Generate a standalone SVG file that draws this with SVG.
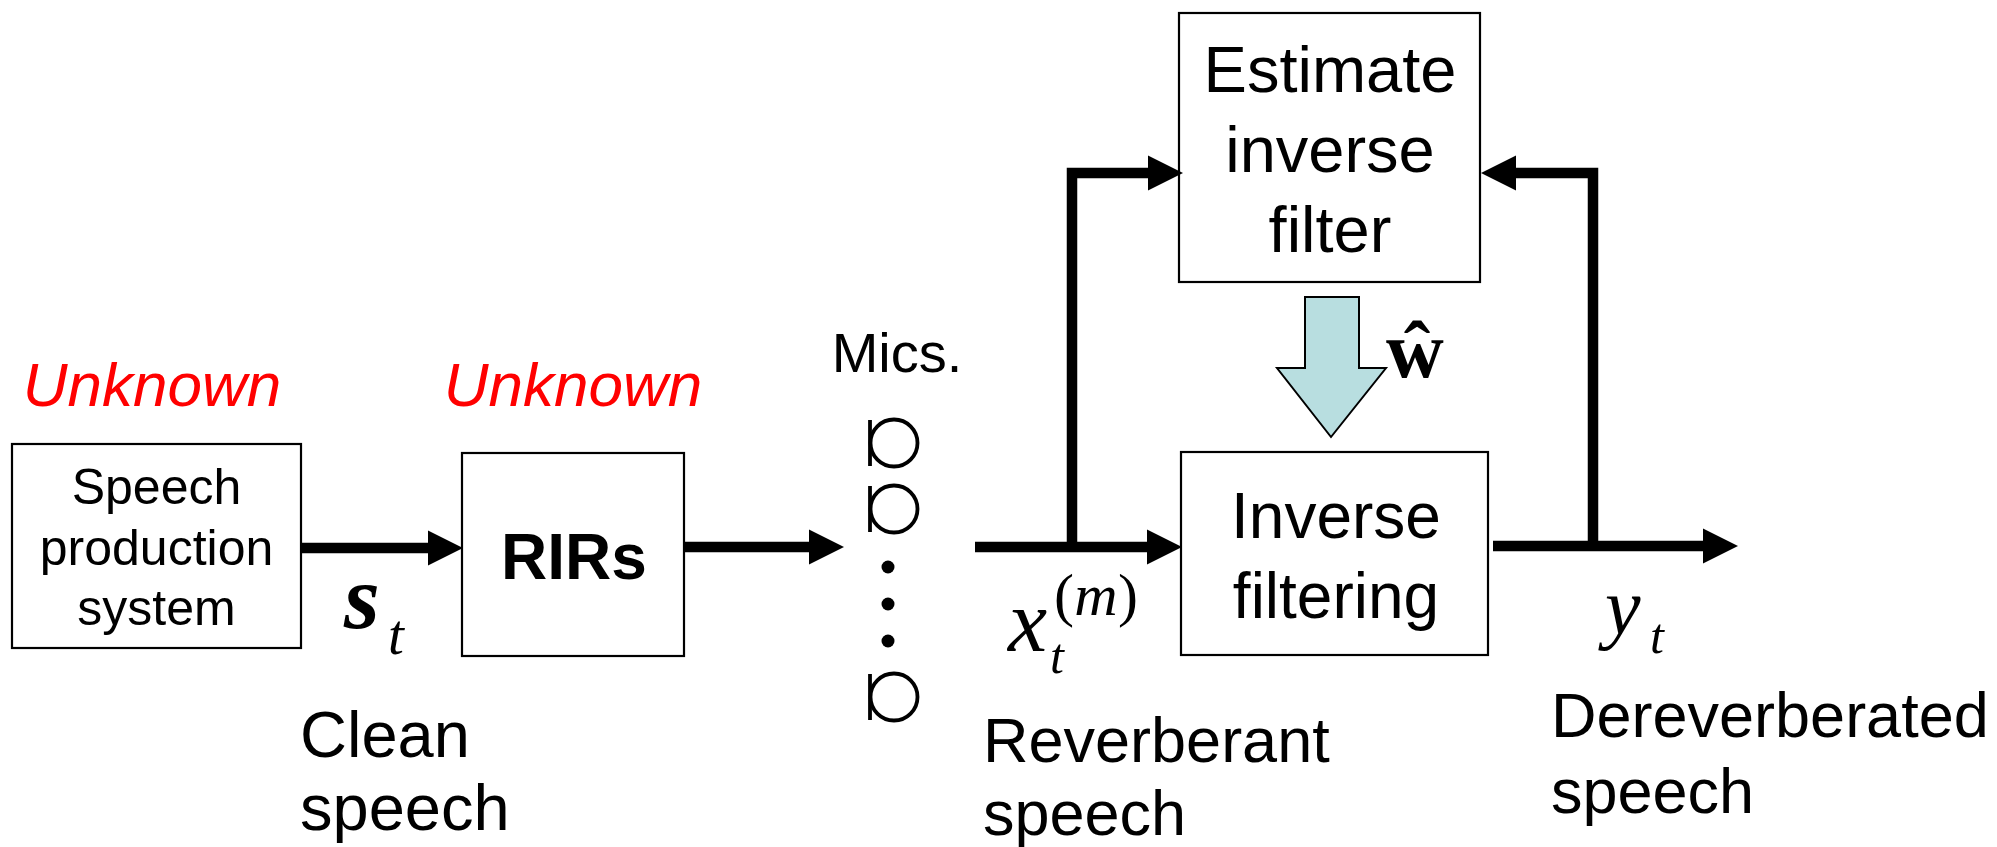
<svg xmlns="http://www.w3.org/2000/svg" width="1997" height="847" viewBox="0 0 1997 847">
<style>
.box{fill:#fff;stroke:#000;stroke-width:2.2}
.sans{font-family:"Liberation Sans",Arial,sans-serif;fill:#000}
.serif{font-family:"Liberation Serif","Times New Roman",serif;fill:#000}
.unk{font-family:"Liberation Sans",Arial,sans-serif;font-style:italic;fill:#ff0000;font-size:62px}
.wire{fill:none;stroke:#000;stroke-width:10.5;stroke-linejoin:miter}
.mic{fill:none;stroke:#000;stroke-width:3.8}
</style>
<defs>
<marker id="ah" markerUnits="userSpaceOnUse" markerWidth="36" markerHeight="36" refX="0" refY="17.5" orient="auto" overflow="visible">
<path d="M0,0 L35,17.5 L0,35 Z" fill="#000"/>
</marker>
</defs>
<rect width="1997" height="847" fill="#fff"/>

<g id="label-unknown1"><text class="unk" x="152" y="406" text-anchor="middle">Unknown</text></g>
<g id="label-unknown2"><text class="unk" x="573" y="406" text-anchor="middle">Unknown</text></g>

<g id="node-speech">
<rect class="box" x="12" y="444" width="289" height="204"/>
<text class="sans" font-size="50" text-anchor="middle"><tspan x="156.5" y="504">Speech</tspan><tspan x="156.5" y="565">production</tspan><tspan x="156.5" y="625">system</tspan></text>
</g>

<g id="node-rirs">
<rect class="box" x="462" y="453" width="222" height="203"/>
<text class="sans" font-size="64" font-weight="bold" x="574" y="579" text-anchor="middle">RIRs</text>
</g>

<g id="node-mics">
<text class="sans" font-size="56" x="897" y="372" text-anchor="middle">Mics.</text>
<circle class="mic" cx="894" cy="443" r="23.5"/><line class="mic" x1="870" y1="420" x2="870" y2="466"/>
<circle class="mic" cx="894" cy="509" r="23.5"/><line class="mic" x1="870" y1="486" x2="870" y2="532"/>
<circle cx="888" cy="567" r="6.5"/>
<circle cx="888" cy="604" r="6.5"/>
<circle cx="888" cy="641" r="6.5"/>
<circle class="mic" cx="894" cy="697" r="23.5"/><line class="mic" x1="870" y1="674" x2="870" y2="720"/>
</g>

<g id="node-estimate">
<rect class="box" x="1179" y="13" width="301" height="269"/>
<text class="sans" font-size="65" text-anchor="middle"><tspan x="1330" y="92">Estimate</tspan><tspan x="1330" y="172">inverse</tspan><tspan x="1330" y="252">filter</tspan></text>
</g>

<g id="node-inverse">
<rect class="box" x="1181" y="452" width="307" height="203"/>
<text class="sans" font-size="64" text-anchor="middle"><tspan x="1336" y="538">Inverse</tspan><tspan x="1336" y="618">filtering</tspan></text>
</g>

<g id="connectors">
<path class="wire" d="M301,548 H428" marker-end="url(#ah)"/>
<path class="wire" d="M684,547 H809" marker-end="url(#ah)"/>
<path class="wire" d="M975,547 H1147" marker-end="url(#ah)"/>
<path class="wire" d="M1072,547 V173 H1148" marker-end="url(#ah)"/>
<path class="wire" d="M1493,546 H1703" marker-end="url(#ah)"/>
<path class="wire" d="M1593,546 V173 H1516" marker-end="url(#ah)"/>
<path id="w-arrow" d="M1305,297 H1359 V368 H1386 L1331,437 L1277,368 H1305 Z" fill="#b8dee0" stroke="#000" stroke-width="2"/>
</g>

<g id="math-labels">
<text class="serif" font-size="92" font-style="italic" font-weight="bold" x="344" y="628">s</text>
<text class="serif" font-size="57" font-style="italic" x="388" y="654">t</text>
<text class="serif" font-size="88" font-style="italic" x="1008" y="651">x</text>
<text class="serif" font-size="50" font-style="italic" x="1050" y="673">t</text>
<text class="serif" font-size="60" x="1054" y="615" textLength="84" lengthAdjust="spacing">(<tspan font-style="italic">m</tspan>)</text>
<text class="serif" font-size="80" font-style="italic" x="1605" y="634">y</text>
<text class="serif" font-size="50" font-style="italic" x="1650" y="653">t</text>
<text class="serif" font-size="80" font-weight="bold" x="1386" y="377">ŵ</text>
</g>

<g id="captions">
<text class="sans" font-size="65"><tspan x="300" y="757">Clean</tspan><tspan x="300" y="830">speech</tspan></text>
<text class="sans" font-size="63"><tspan x="983" y="762">Reverberant</tspan><tspan x="983" y="835">speech</tspan></text>
<text class="sans" font-size="63"><tspan x="1551" y="737">Dereverberated</tspan><tspan x="1551" y="813">speech</tspan></text>
</g>
</svg>
